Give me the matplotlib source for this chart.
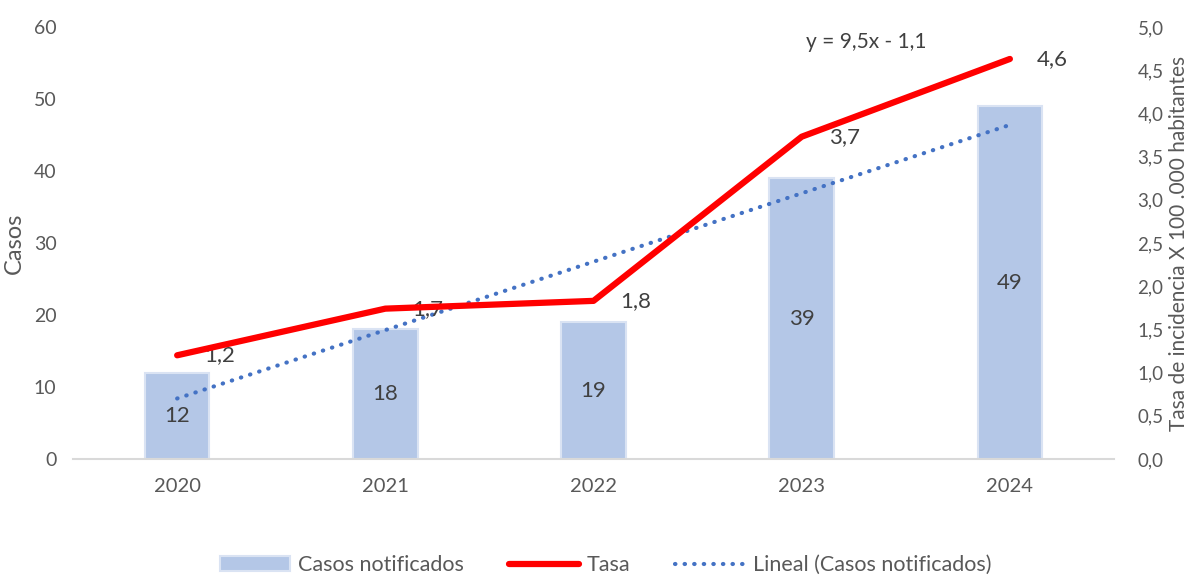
import matplotlib
matplotlib.use("Agg")
import matplotlib.pyplot as plt
import numpy as np

plt.rcParams['font.family'] = ['Lato', 'DejaVu Sans']

years = ['2020', '2021', '2022', '2023', '2024']
casos = [12, 18, 19, 39, 49]
tasa = [1.2, 1.74, 1.83, 3.73, 4.63]

fig = plt.figure(figsize=(11.88, 5.79), dpi=100)
ax = fig.add_axes([0.0615, 0.2073, 0.8762, 0.7461])
ax2 = ax.twinx()

x = np.arange(len(years))
bars = ax.bar(x, casos, width=0.31, color='#B4C7E7', edgecolor='#DAE3F3',
              linewidth=1.5, label='Casos notificados', zorder=2)
for xi, v in zip(x, casos):
    ax.text(xi, v / 2, str(v), ha='center', va='center', fontsize=16, color='#404040', zorder=5)

# linear trend of the cases (Excel-style trendline)
slope, intercept = np.polyfit(x + 1, casos, 1)
trend = slope * (x + 1) + intercept
tl, = ax.plot(x, trend, linestyle=(0, (0.1, 2.2)), color='#4472C4', linewidth=3,
              dash_capstyle='round', label='Lineal (Casos notificados)', zorder=3)

ln, = ax2.plot(x, tasa, color='#FF0000', linewidth=4.5, solid_capstyle='round',
               solid_joinstyle='round', label='Tasa', zorder=4)
for xi, v in zip(x, tasa):
    ax2.text(xi + 0.13, v, f'{v:.1f}'.replace('.', ','), ha='left', va='center',
             fontsize=16, color='#404040')

eq = f'y = {slope:.1f}x - {abs(intercept):.1f}'.replace('.', ',')
ax2.text(3.31, 4.83, eq, ha='center', va='center', fontsize=15, color='#404040')

ax.set_xlim(-0.5, 4.5)
ax.set_ylim(0, 60)
ax.set_yticks(range(0, 61, 10))
ax2.set_ylim(0, 5)
ax2.set_yticks(np.arange(0, 5.01, 0.5))
ax2.set_yticklabels([f'{t:.1f}'.replace('.', ',') for t in np.arange(0, 5.01, 0.5)])
ax.set_xticks(x)
ax.set_xticklabels(years)

for a in (ax, ax2):
    for s in a.spines.values():
        s.set_visible(False)
    a.tick_params(length=0, colors='#595959', labelsize=13.5)
ax.spines['bottom'].set_visible(True)
ax.spines['bottom'].set_color('#D9D9D9')
ax.spines['bottom'].set_linewidth(1.5)
ax.tick_params(axis='x', pad=14, labelsize=14.5)
ax.tick_params(axis='y', pad=12, labelsize=14)
ax2.tick_params(axis='y', pad=17)

ax.set_ylabel('Casos', fontsize=17, color='#595959', labelpad=6)
ax2.set_ylabel('Tasa de incidencia X 100 .000 habitantes', fontsize=15, color='#595959', labelpad=4)

fig.legend([bars, ln, tl], ['Casos notificados', 'Tasa', 'Lineal (Casos notificados)'],
           loc='center', bbox_to_anchor=(0.51, 0.024), ncol=3, frameon=False,
           fontsize=15.5, labelcolor='#595959', handlelength=3.25, columnspacing=2.1,
           handletextpad=0.35)

fig.savefig('out.png', dpi=100)
